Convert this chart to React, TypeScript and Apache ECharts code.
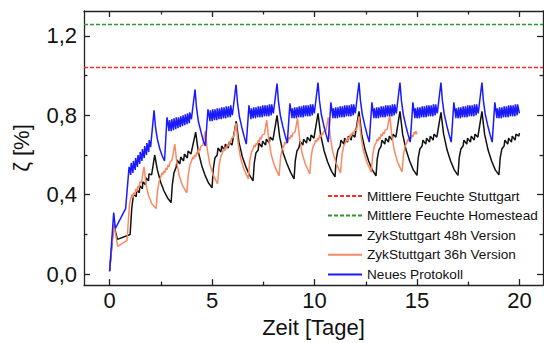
import React, { useEffect, useRef } from 'react';
import * as echarts from 'echarts';

const xMajorTicks = [0, 5, 10, 15, 20];
const xMinorTicks = [2.5, 7.5, 12.5, 17.5];
const yMajorTicks = [0, 0.4, 0.8, 1.2];
const yMinorTicks = [0.2, 0.6, 1.0];
const X_MIN = -1.25;
const X_MAX = 21.15;
const Y_MIN = -0.055;
const Y_MAX = 1.325;

const seriesNames = [
  'Mittlere Feuchte Stuttgart',
  'Mittlere Feuchte Homestead',
  'ZykStuttgart 48h Version',
  'ZykStuttgart 36h Version',
  'Neues Protokoll',
];
const stuttgartMean = 1.04;
const homesteadMean = 1.26;

const blueData = [
  [0, 0.015], [0.2, 0.31], [0.28, 0.23], [0.78, 0.33], [0.95, 0.54], [1.03, 0.5],
  [1.05, 0.56], [1.14, 0.51], [1.16, 0.57], [1.25, 0.525], [1.27, 0.585], [1.36, 0.54], [1.38, 0.6], [1.47, 0.555], [1.49, 0.615], [1.58, 0.57], [1.6, 0.63], [1.69, 0.585], [1.71, 0.645], [1.8, 0.6], [1.82, 0.66], [1.91, 0.615], [1.93, 0.675], [2.0, 0.64],
  [2.17, 0.825], [2.24, 0.74], [2.33, 0.68], [2.45, 0.63], [2.57, 0.595], [2.68, 0.57], [2.8, 0.79], [2.9, 0.72],
  [2.92, 0.775], [3.01, 0.72], [3.03, 0.78], [3.12, 0.725], [3.14, 0.785], [3.23, 0.73], [3.25, 0.79], [3.34, 0.735], [3.36, 0.79], [3.45, 0.74], [3.47, 0.795], [3.56, 0.745], [3.58, 0.8], [3.67, 0.75], [3.69, 0.805], [3.78, 0.755], [3.8, 0.81], [3.89, 0.76], [3.91, 0.815], [3.99, 0.78],
  [4.17, 0.93], [4.24, 0.84], [4.33, 0.77], [4.45, 0.72], [4.56, 0.675], [4.67, 0.645], [4.8, 0.83], [4.9, 0.77],
  [4.92, 0.825], [5.01, 0.77], [5.03, 0.83], [5.12, 0.775], [5.14, 0.83], [5.23, 0.775], [5.25, 0.835], [5.34, 0.78], [5.36, 0.835], [5.45, 0.78], [5.47, 0.84], [5.56, 0.785], [5.58, 0.84], [5.67, 0.785], [5.69, 0.845], [5.78, 0.79], [5.8, 0.845], [5.89, 0.79], [5.91, 0.85], [5.99, 0.8],
  [6.17, 0.955], [6.24, 0.865], [6.33, 0.795], [6.45, 0.74], [6.56, 0.695], [6.67, 0.655], [6.8, 0.85], [6.9, 0.78],
  [6.92, 0.835], [7.01, 0.785], [7.03, 0.84], [7.12, 0.785], [7.14, 0.84], [7.23, 0.79], [7.25, 0.845], [7.34, 0.79], [7.36, 0.845], [7.45, 0.79], [7.47, 0.85], [7.56, 0.795], [7.58, 0.85], [7.67, 0.795], [7.69, 0.85], [7.78, 0.795], [7.8, 0.855], [7.89, 0.8], [7.91, 0.855], [7.99, 0.81],
  [8.17, 0.96], [8.24, 0.87], [8.33, 0.8], [8.45, 0.745], [8.56, 0.7], [8.67, 0.66], [8.8, 0.86], [8.9, 0.785],
  [8.92, 0.835], [9.01, 0.785], [9.03, 0.84], [9.12, 0.785], [9.14, 0.84], [9.23, 0.79], [9.25, 0.845], [9.34, 0.79], [9.36, 0.845], [9.45, 0.79], [9.47, 0.85], [9.56, 0.795], [9.58, 0.85], [9.67, 0.795], [9.69, 0.85], [9.78, 0.795], [9.8, 0.855], [9.89, 0.8], [9.91, 0.855], [9.99, 0.81],
  [10.17, 0.965], [10.24, 0.875], [10.33, 0.805], [10.45, 0.75], [10.56, 0.705], [10.67, 0.665], [10.8, 0.865], [10.9, 0.785],
  [10.92, 0.835], [11.01, 0.785], [11.03, 0.84], [11.12, 0.785], [11.14, 0.84], [11.23, 0.79], [11.25, 0.845], [11.34, 0.79], [11.36, 0.845], [11.45, 0.79], [11.47, 0.85], [11.56, 0.795], [11.58, 0.85], [11.67, 0.795], [11.69, 0.85], [11.78, 0.795], [11.8, 0.855], [11.89, 0.8], [11.91, 0.855], [11.99, 0.81],
  [12.17, 0.965], [12.24, 0.875], [12.33, 0.805], [12.45, 0.75], [12.56, 0.705], [12.67, 0.665], [12.8, 0.865], [12.9, 0.785],
  [12.92, 0.835], [13.01, 0.785], [13.03, 0.84], [13.12, 0.785], [13.14, 0.84], [13.23, 0.79], [13.25, 0.845], [13.34, 0.79], [13.36, 0.845], [13.45, 0.79], [13.47, 0.85], [13.56, 0.795], [13.58, 0.85], [13.67, 0.795], [13.69, 0.85], [13.78, 0.795], [13.8, 0.855], [13.89, 0.8], [13.91, 0.855], [13.99, 0.81],
  [14.17, 0.965], [14.24, 0.875], [14.33, 0.805], [14.45, 0.75], [14.56, 0.705], [14.67, 0.665], [14.8, 0.865], [14.9, 0.785],
  [14.92, 0.835], [15.01, 0.785], [15.03, 0.84], [15.12, 0.785], [15.14, 0.84], [15.23, 0.79], [15.25, 0.845], [15.34, 0.79], [15.36, 0.845], [15.45, 0.79], [15.47, 0.85], [15.56, 0.795], [15.58, 0.85], [15.67, 0.795], [15.69, 0.85], [15.78, 0.795], [15.8, 0.855], [15.89, 0.8], [15.91, 0.855], [15.99, 0.81],
  [16.17, 0.965], [16.24, 0.875], [16.33, 0.805], [16.45, 0.75], [16.56, 0.705], [16.67, 0.665], [16.8, 0.865], [16.9, 0.785],
  [16.92, 0.835], [17.01, 0.785], [17.03, 0.84], [17.12, 0.785], [17.14, 0.84], [17.23, 0.79], [17.25, 0.845], [17.34, 0.79], [17.36, 0.845], [17.45, 0.79], [17.47, 0.85], [17.56, 0.795], [17.58, 0.85], [17.67, 0.795], [17.69, 0.85], [17.78, 0.795], [17.8, 0.855], [17.89, 0.8], [17.91, 0.855], [17.99, 0.81],
  [18.17, 0.965], [18.24, 0.875], [18.33, 0.805], [18.45, 0.75], [18.56, 0.705], [18.67, 0.665], [18.8, 0.865], [18.9, 0.785],
  [18.92, 0.835], [19.01, 0.785], [19.03, 0.84], [19.12, 0.785], [19.14, 0.84], [19.23, 0.79], [19.25, 0.845], [19.34, 0.79], [19.36, 0.845], [19.45, 0.79], [19.47, 0.85], [19.56, 0.795], [19.58, 0.85], [19.67, 0.795], [19.69, 0.85], [19.78, 0.795], [19.8, 0.855], [19.89, 0.8], [19.91, 0.855], [20.0, 0.81],
];

const blackData = [
  [0, 0.015], [0.2, 0.25], [0.38, 0.175], [1.0, 0.2], [1.08, 0.33], [1.14, 0.38],
  [1.17, 0.405], [1.3, 0.39], [1.32, 0.425], [1.45, 0.41], [1.47, 0.445], [1.6, 0.43], [1.62, 0.465], [1.75, 0.45], [1.77, 0.485], [1.9, 0.47], [1.92, 0.505], [2.05, 0.5],
  [2.2, 0.6], [2.33, 0.525], [2.5, 0.46], [2.65, 0.42], [2.82, 0.385], [3.0, 0.36], [3.06, 0.45], [3.14, 0.51], [3.25, 0.54],
  [3.29, 0.575], [3.43, 0.555], [3.47, 0.59], [3.61, 0.57], [3.65, 0.605], [3.79, 0.585], [3.83, 0.62], [3.97, 0.605],
  [4.2, 0.715], [4.33, 0.615], [4.5, 0.545], [4.65, 0.5], [4.82, 0.46], [5.0, 0.435], [5.06, 0.53], [5.14, 0.585], [5.25, 0.6],
  [5.29, 0.635], [5.43, 0.615], [5.47, 0.645], [5.61, 0.625], [5.65, 0.655], [5.79, 0.635], [5.83, 0.665], [5.97, 0.65],
  [6.18, 0.77], [6.31, 0.665], [6.48, 0.59], [6.65, 0.54], [6.82, 0.5], [7.0, 0.47], [7.06, 0.56], [7.14, 0.61], [7.25, 0.625],
  [7.29, 0.66], [7.43, 0.64], [7.47, 0.67], [7.61, 0.65], [7.65, 0.68], [7.79, 0.66], [7.83, 0.69], [7.97, 0.675],
  [8.17, 0.8], [8.3, 0.69], [8.47, 0.61], [8.64, 0.56], [8.82, 0.515], [9.0, 0.48], [9.06, 0.57], [9.14, 0.62], [9.25, 0.64],
  [9.29, 0.67], [9.43, 0.65], [9.47, 0.68], [9.61, 0.66], [9.65, 0.69], [9.79, 0.67], [9.83, 0.7], [9.97, 0.685],
  [10.17, 0.81], [10.3, 0.7], [10.47, 0.62], [10.64, 0.565], [10.82, 0.52], [11.0, 0.49], [11.06, 0.58], [11.14, 0.625], [11.25, 0.645],
  [11.29, 0.675], [11.43, 0.655], [11.47, 0.685], [11.61, 0.665], [11.65, 0.695], [11.79, 0.675], [11.83, 0.705], [11.97, 0.69],
  [12.17, 0.82], [12.3, 0.705], [12.47, 0.625], [12.64, 0.57], [12.82, 0.525], [13.0, 0.495], [13.06, 0.58], [13.14, 0.625], [13.25, 0.645],
  [13.29, 0.675], [13.43, 0.655], [13.47, 0.685], [13.61, 0.665], [13.65, 0.695], [13.79, 0.675], [13.83, 0.705], [13.97, 0.69],
  [14.17, 0.82], [14.3, 0.705], [14.47, 0.625], [14.64, 0.57], [14.82, 0.525], [15.0, 0.497], [15.06, 0.585], [15.14, 0.63], [15.25, 0.645],
  [15.29, 0.675], [15.43, 0.655], [15.47, 0.685], [15.61, 0.665], [15.65, 0.695], [15.79, 0.675], [15.83, 0.705], [15.97, 0.69],
  [16.17, 0.815], [16.3, 0.705], [16.47, 0.625], [16.64, 0.57], [16.82, 0.525], [17.0, 0.497], [17.06, 0.585], [17.14, 0.63], [17.25, 0.645],
  [17.29, 0.675], [17.43, 0.655], [17.47, 0.685], [17.61, 0.665], [17.65, 0.695], [17.79, 0.675], [17.83, 0.705], [17.97, 0.69],
  [18.17, 0.82], [18.3, 0.705], [18.47, 0.625], [18.64, 0.57], [18.82, 0.525], [19.0, 0.5], [19.06, 0.585], [19.14, 0.63], [19.25, 0.645],
  [19.29, 0.675], [19.43, 0.655], [19.47, 0.685], [19.61, 0.665], [19.65, 0.695], [19.79, 0.675], [19.83, 0.705], [19.97, 0.695], [20.0, 0.71],
];

const orangeData = [
  [0, 0.015], [0.2, 0.25], [0.4, 0.14], [0.85, 0.17], [0.97, 0.35], [1.03, 0.38],
  [1.08, 0.4], [1.13, 0.385], [1.18, 0.41], [1.23, 0.4], [1.28, 0.43], [1.33, 0.415], [1.38, 0.445], [1.43, 0.435], [1.48, 0.465], [1.55, 0.46],
  [1.68, 0.54], [1.78, 0.45], [1.9, 0.395], [2.06, 0.355], [2.27, 0.33], [2.34, 0.42], [2.42, 0.47], [2.5, 0.49],
  [2.55, 0.51], [2.6, 0.5], [2.65, 0.52], [2.7, 0.51], [2.75, 0.535], [2.8, 0.525], [2.85, 0.55], [2.9, 0.54], [2.95, 0.565], [3.05, 0.575],
  [3.18, 0.655], [3.28, 0.56], [3.4, 0.495], [3.56, 0.445], [3.77, 0.41], [3.84, 0.5], [3.92, 0.55], [4.0, 0.57],
  [4.05, 0.59], [4.1, 0.58], [4.15, 0.6], [4.2, 0.59], [4.25, 0.615], [4.3, 0.605], [4.35, 0.63], [4.4, 0.62], [4.45, 0.645], [4.55, 0.65],
  [4.67, 0.72], [4.77, 0.625], [4.89, 0.555], [5.05, 0.5], [5.27, 0.455], [5.34, 0.545], [5.42, 0.59], [5.5, 0.61],
  [5.55, 0.63], [5.6, 0.62], [5.65, 0.64], [5.7, 0.63], [5.75, 0.655], [5.8, 0.645], [5.85, 0.67], [5.9, 0.66], [5.95, 0.685], [6.05, 0.69],
  [6.17, 0.76], [6.27, 0.66], [6.39, 0.585], [6.55, 0.53], [6.77, 0.48], [6.84, 0.57], [6.92, 0.615], [7.0, 0.63],
  [7.05, 0.65], [7.1, 0.64], [7.15, 0.66], [7.2, 0.65], [7.25, 0.675], [7.3, 0.665], [7.35, 0.69], [7.4, 0.68], [7.45, 0.7], [7.55, 0.705],
  [7.67, 0.775], [7.77, 0.675], [7.89, 0.6], [8.05, 0.545], [8.27, 0.495], [8.34, 0.585], [8.42, 0.63], [8.5, 0.645],
  [8.55, 0.665], [8.6, 0.655], [8.65, 0.675], [8.7, 0.665], [8.75, 0.69], [8.8, 0.68], [8.85, 0.7], [8.9, 0.69], [8.95, 0.71], [9.05, 0.715],
  [9.17, 0.785], [9.27, 0.685], [9.39, 0.61], [9.55, 0.555], [9.77, 0.505], [9.84, 0.595], [9.92, 0.64], [10.0, 0.655],
  [10.05, 0.675], [10.1, 0.665], [10.15, 0.685], [10.2, 0.675], [10.25, 0.7], [10.3, 0.69], [10.35, 0.71], [10.4, 0.7], [10.45, 0.72], [10.55, 0.72],
  [10.67, 0.79], [10.77, 0.69], [10.89, 0.615], [11.05, 0.56], [11.27, 0.51], [11.34, 0.6], [11.42, 0.645], [11.5, 0.66],
  [11.55, 0.68], [11.6, 0.67], [11.65, 0.69], [11.7, 0.68], [11.75, 0.705], [11.8, 0.695], [11.85, 0.715], [11.9, 0.705], [11.95, 0.725], [12.05, 0.725],
  [12.17, 0.795], [12.27, 0.695], [12.39, 0.62], [12.55, 0.565], [12.77, 0.513], [12.84, 0.6], [12.92, 0.645], [13.0, 0.66],
  [13.05, 0.68], [13.1, 0.67], [13.15, 0.69], [13.2, 0.68], [13.25, 0.705], [13.3, 0.695], [13.35, 0.715], [13.4, 0.705], [13.45, 0.725], [13.55, 0.73],
  [13.67, 0.8], [13.77, 0.7], [13.89, 0.625], [14.05, 0.565], [14.27, 0.515], [14.34, 0.6], [14.42, 0.645], [14.5, 0.66],
  [14.55, 0.68], [14.6, 0.67], [14.65, 0.69], [14.7, 0.68], [14.75, 0.7], [14.8, 0.69], [14.85, 0.715], [14.9, 0.705], [14.95, 0.72], [15.0, 0.705],
];

const FONT = "'Liberation Sans', Arial, sans-serif";
const AXIS_COLOR = '#222';

function xAxisDef(position: 'top' | 'bottom', ticks: number[], len: number, withLabels: boolean, withLine: boolean) {
  return {
    type: 'value',
    position,
    min: X_MIN,
    max: X_MAX,
    axisLine: { show: withLine, onZero: false, lineStyle: { color: AXIS_COLOR, width: 1.3 } },
    axisTick: { show: true, inside: true, length: len, customValues: ticks, lineStyle: { color: AXIS_COLOR, width: 1.3 } },
    axisLabel: withLabels
      ? { show: true, customValues: ticks, margin: 4, fontSize: 22, color: '#111', fontFamily: FONT }
      : { show: false },
    splitLine: { show: false },
    ...(withLabels
      ? {
          name: 'Zeit [Tage]',
          nameLocation: 'middle',
          nameGap: 29,
          nameTextStyle: { fontSize: 22, color: '#111', fontFamily: FONT },
        }
      : {}),
  };
}

function yAxisDef(position: 'left' | 'right', ticks: number[], len: number, withLabels: boolean, withLine: boolean) {
  return {
    type: 'value',
    position,
    min: Y_MIN,
    max: Y_MAX,
    axisLine: { show: withLine, onZero: false, lineStyle: { color: AXIS_COLOR, width: 1.3 } },
    axisTick: { show: true, inside: true, length: len, customValues: ticks, lineStyle: { color: AXIS_COLOR, width: 1.3 } },
    axisLabel: withLabels
      ? {
          show: true,
          customValues: ticks,
          margin: 7,
          fontSize: 22,
          color: '#111',
          fontFamily: FONT,
          formatter: (v: number) => v.toFixed(1).replace('.', ','),
        }
      : { show: false },
    splitLine: { show: false },
    ...(withLabels
      ? {
          name: 'ζ [%]',
          nameLocation: 'middle',
          nameGap: 52,
          nameRotate: 90,
          nameTextStyle: { fontSize: 22, color: '#111', fontFamily: FONT },
        }
      : {}),
  };
}

function refLine(name: string, value: number, color: string) {
  return {
    name,
    type: 'line',
    data: [],
    symbol: 'none',
    lineStyle: { color, width: 1.3, type: [4, 2] },
    itemStyle: { color },
    markLine: {
      silent: true,
      symbol: 'none',
      label: { show: false },
      lineStyle: { color, width: 1.3, type: [4, 2] },
      data: [{ yAxis: value }],
    },
  };
}

function curve(name: string, data: number[][], color: string) {
  return {
    name,
    type: 'line',
    data,
    symbol: 'none',
    showSymbol: false,
    clip: true,
    lineStyle: { color, width: 1.5 },
    itemStyle: { color },
  };
}

export default function App() {
  const ref = useRef<HTMLDivElement>(null);
  useEffect(() => {
    const chart = echarts.init(ref.current!, null, { renderer: 'svg' });
    chart.setOption({
      animation: false,
      backgroundColor: '#fff',
      grid: { left: 84, top: 11, width: 459, height: 276, containLabel: false },
      legend: {
        orient: 'vertical',
        left: 327,
        top: 189,
        padding: 0,
        itemWidth: 34,
        itemHeight: 14,
        itemGap: 5.6,
        itemStyle: { opacity: 0, color: 'transparent', borderColor: 'transparent', borderWidth: 0 },
        textStyle: { fontSize: 13.6, color: '#111', fontFamily: FONT },
        data: seriesNames,
      },
      xAxis: [
        xAxisDef('bottom', xMajorTicks, 6, true, true),
        xAxisDef('bottom', xMinorTicks, 3.5, false, false),
        xAxisDef('top', xMajorTicks, 6, false, true),
        xAxisDef('top', xMinorTicks, 3.5, false, false),
      ],
      yAxis: [
        yAxisDef('left', yMajorTicks, 6, true, true),
        yAxisDef('left', yMinorTicks, 3.5, false, false),
        yAxisDef('right', yMajorTicks, 6, false, true),
        yAxisDef('right', yMinorTicks, 3.5, false, false),
      ],
      series: [
        refLine(seriesNames[0], stuttgartMean, '#ff2a2a'),
        refLine(seriesNames[1], homesteadMean, '#2a9a2a'),
        curve(seriesNames[2], blackData, '#111111'),
        curve(seriesNames[3], orangeData, '#f98a62'),
        curve(seriesNames[4], blueData, '#1a1aff'),
      ],
    });
    return () => chart.dispose();
  }, []);
  return <div ref={ref} style={{ position: 'absolute', left: 0, top: 0, width: 544, height: 343 }} />;
}
